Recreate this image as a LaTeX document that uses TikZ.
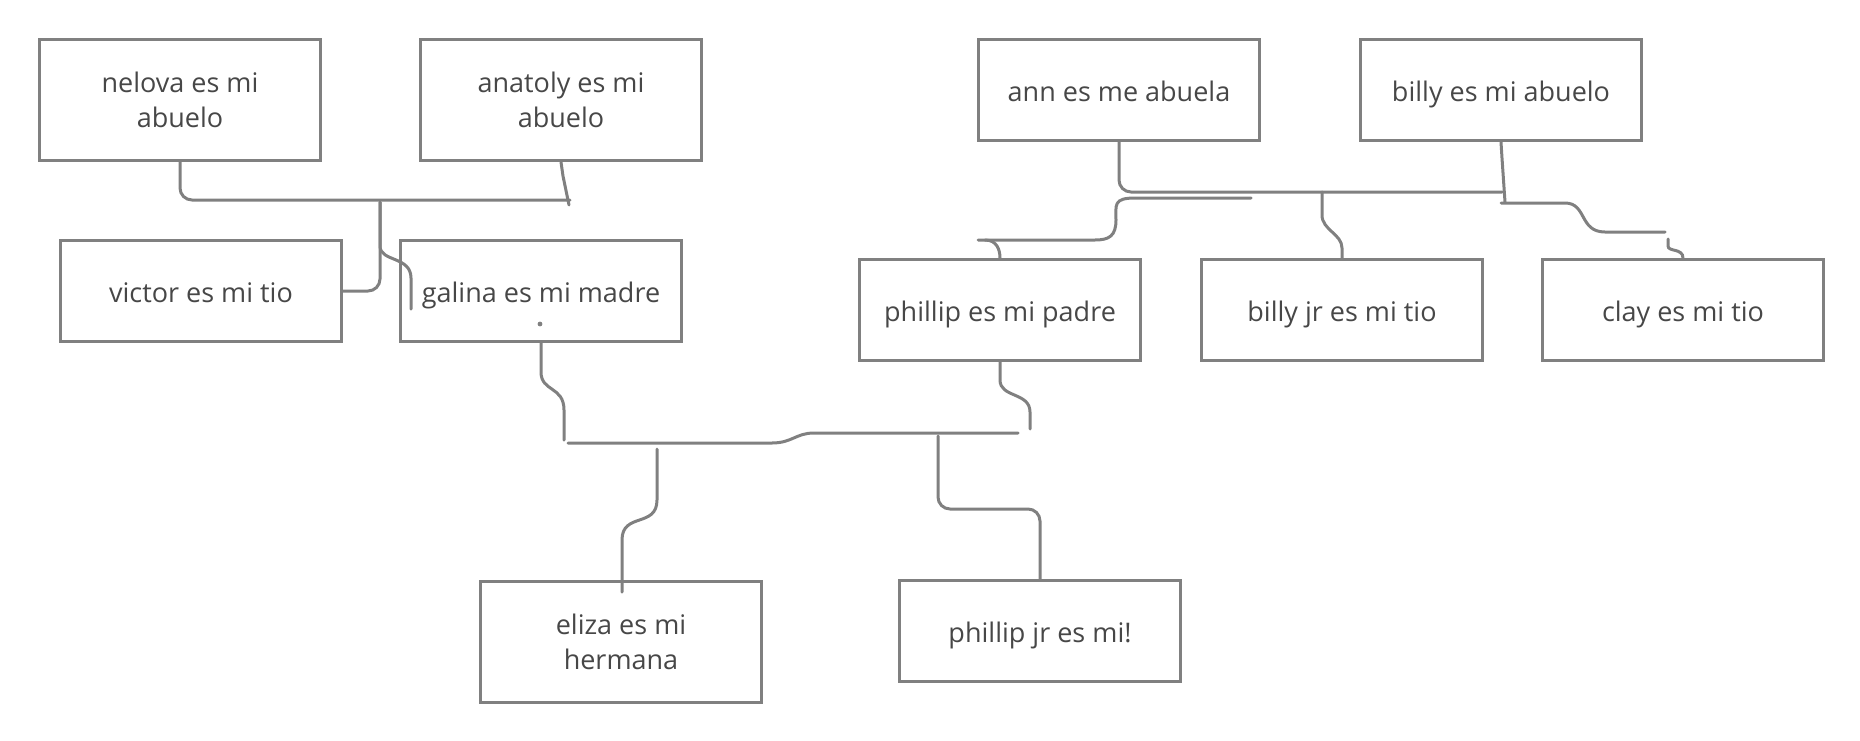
\documentclass[tikz,border=0pt]{standalone}
\usepackage{fontspec}
\setmainfont{Open Sans}
\usepackage{tikz}
\definecolor{boxgray}{HTML}{808080}
\definecolor{txtgray}{HTML}{474747}

\begin{document}
\begin{tikzpicture}[x=0.5pt, y=-0.5pt,
  member/.style={draw=boxgray, line width=1.5pt, minimum width=140.5pt, minimum height=50.5pt, inner sep=0pt, align=center, text=txtgray, font=\fontsize{13.5}{17.3}\selectfont},
  tall/.style={minimum height=60.5pt},
  single/.style={text height=12pt, text depth=0.8pt},
  link/.style={draw=boxgray, line width=1.5pt, line cap=round, rounded corners=6pt},
  wire/.style={draw=boxgray, line width=1.5pt, line cap=round}]
\useasboundingbox (0,0) rectangle (1860,740);
\node[member, tall] (nelova) at (180,100) {nelova es mi\\abuelo}; \node[member, tall] (anatoly) at (561,100) {anatoly es mi\\abuelo};
\node[member, single] (victor) at (201,291) {victor es mi tio}; \node[member, single] (galina) at (541,291) {galina es mi madre};
\node[member, single] (ann) at (1119,90) {ann es me abuela}; \node[member, single] (billy) at (1501,90) {billy es mi abuelo};
\node[member, single] (phillip) at (1000,310) {phillip es mi padre}; \node[member, single] (billyjr) at (1342,310) {billy jr es mi tio}; \node[member, single] (clay) at (1683,310) {clay es mi tio};
\node[member, tall] (eliza) at (621,642) {eliza es mi\\hermana}; \node[member, single] (phillipjr) at (1040,631) {phillip jr es mi!};
\fill[boxgray] (540,324) circle (1.2pt);
% left grandparents
\coordinate (lbar) at (570,200); \coordinate (aend) at (569,205); \coordinate (lstem) at (380,202); \coordinate (gend) at (411,309);
\draw[link] (nelova.south) |- (lbar);
\draw[wire] (anatoly.south) -- (563,176) -- (aend);
\draw[link] (victor.east) -| (lstem);
\draw[wire] (lstem) -- (380,246) .. controls (380,262) and (411,256) .. (411,278) -- (gend);
% right grandparents
\coordinate (rbar) at (1502,192); \coordinate (bend) at (1505,202); \coordinate (rj) at (1322,192);
\draw[link] (ann.south) |- (rbar);
\draw[wire] (billy.south) -- (1502,158) -- (bend);
\draw[wire] (rj) -- (1322,215) .. controls (1322,230) and (1342,234) .. (1342,248) -- (billyjr.north);
\coordinate (pa) at (1251,198); \coordinate (pb) at (978,240); \coordinate (ph) at (985,240);
\draw[wire] (pa) -- (1135,198) .. controls (1113,198) and (1116,205) .. (1116,220) .. controls (1116,236) and (1109,240) .. (1095,240) -- (pb);
\draw[wire] (ph) .. controls (997,240) and (1000,250) .. (phillip.north);
\coordinate (ca) at (1501,203); \coordinate (cb) at (1665,232); \coordinate (ch) at (1668,239);
\draw[wire] (ca) -- (1565,203) .. controls (1587,203) and (1579,232) .. (1605,232) -- (cb);
\draw[wire] (ch) -- (1668,246) .. controls (1668,252) and (1683,248) .. (clay.north);
% parents and children
\coordinate (gs) at (564,440); \coordinate (ba) at (568,443); \coordinate (bb) at (1018,433); \coordinate (ps) at (1030,429);
\draw[wire] (galina.south) -- (541,372) .. controls (541,392) and (564,386) .. (564,410) -- (gs);
\draw[wire] (ba) -- (772,443) .. controls (792,443) and (796,433) .. (814,433) -- (bb);
\draw[wire] (phillip.south) -- (1000,380) .. controls (1000,398) and (1030,392) .. (1030,412) -- (ps);
\coordinate (es) at (657,449); \coordinate (ee) at (622,592); \coordinate (js) at (938,436);
\draw[wire] (es) -- (657,500) .. controls (657,528) and (622,512) .. (622,540) -- (ee);
\draw[link] (js) |- (1000,509) -| (phillipjr.north);
\end{tikzpicture}
\end{document}
